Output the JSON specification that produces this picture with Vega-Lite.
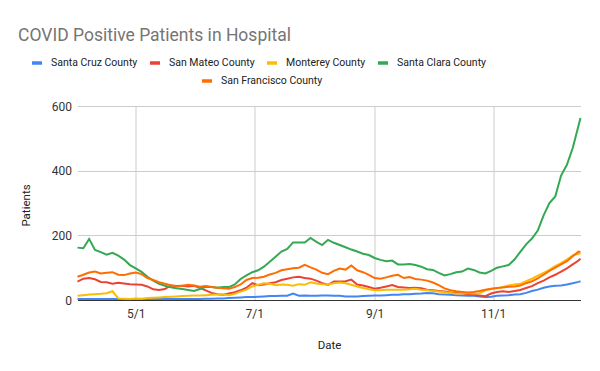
{
  "$schema": "https://vega.github.io/schema/vega-lite/v6.json",
  "width": 503,
  "height": 194,
  "autosize": {"type": "none"},
  "padding": {"left": 77.5, "top": 106, "right": 19.5, "bottom": 71},
  "background": "white",
  "config": {"font": "Roboto", "view": {"stroke": null}},
  "title": {"text": "COVID Positive Patients in Hospital", "anchor": "start", "frame": "group", "dx": -59.5, "offset": 12, "font": "Roboto", "fontSize": 17.5, "fontWeight": "normal", "color": "#757575"},
  "data": {"values": [
    {"date":"2020-04-01","Santa Cruz County":3,"San Mateo County":57,"Monterey County":13,"Santa Clara County":162,"San Francisco County":72},
    {"date":"2020-04-04","Santa Cruz County":3,"San Mateo County":66,"Monterey County":15,"Santa Clara County":160,"San Francisco County":78},
    {"date":"2020-04-07","Santa Cruz County":3,"San Mateo County":68,"Monterey County":17,"Santa Clara County":189,"San Francisco County":85},
    {"date":"2020-04-10","Santa Cruz County":3,"San Mateo County":64,"Monterey County":18,"Santa Clara County":155,"San Francisco County":88},
    {"date":"2020-04-13","Santa Cruz County":3,"San Mateo County":56,"Monterey County":19,"Santa Clara County":148,"San Francisco County":82},
    {"date":"2020-04-16","Santa Cruz County":3,"San Mateo County":55,"Monterey County":21,"Santa Clara County":140,"San Francisco County":84},
    {"date":"2020-04-19","Santa Cruz County":3,"San Mateo County":50,"Monterey County":27,"Santa Clara County":146,"San Francisco County":86},
    {"date":"2020-04-22","Santa Cruz County":3,"San Mateo County":53,"Monterey County":5,"Santa Clara County":137,"San Francisco County":78},
    {"date":"2020-04-25","Santa Cruz County":3,"San Mateo County":51,"Monterey County":4,"Santa Clara County":125,"San Francisco County":77},
    {"date":"2020-04-28","Santa Cruz County":3,"San Mateo County":49,"Monterey County":3,"Santa Clara County":108,"San Francisco County":82},
    {"date":"2020-05-01","Santa Cruz County":3,"San Mateo County":48,"Monterey County":5,"Santa Clara County":98,"San Francisco County":85},
    {"date":"2020-05-04","Santa Cruz County":3,"San Mateo County":47,"Monterey County":4,"Santa Clara County":87,"San Francisco County":80},
    {"date":"2020-05-07","Santa Cruz County":3,"San Mateo County":42,"Monterey County":6,"Santa Clara County":72,"San Francisco County":68},
    {"date":"2020-05-10","Santa Cruz County":3,"San Mateo County":33,"Monterey County":7,"Santa Clara County":60,"San Francisco County":62},
    {"date":"2020-05-13","Santa Cruz County":3,"San Mateo County":31,"Monterey County":8,"Santa Clara County":50,"San Francisco County":55},
    {"date":"2020-05-16","Santa Cruz County":3,"San Mateo County":34,"Monterey County":9,"Santa Clara County":44,"San Francisco County":50},
    {"date":"2020-05-19","Santa Cruz County":3,"San Mateo County":45,"Monterey County":10,"Santa Clara County":39,"San Francisco County":46},
    {"date":"2020-05-22","Santa Cruz County":3,"San Mateo County":43,"Monterey County":11,"Santa Clara County":36,"San Francisco County":42},
    {"date":"2020-05-25","Santa Cruz County":3,"San Mateo County":44,"Monterey County":12,"Santa Clara County":34,"San Francisco County":44},
    {"date":"2020-05-28","Santa Cruz County":3,"San Mateo County":42,"Monterey County":13,"Santa Clara County":31,"San Francisco County":47},
    {"date":"2020-05-31","Santa Cruz County":3,"San Mateo County":44,"Monterey County":14,"Santa Clara County":28,"San Francisco County":45},
    {"date":"2020-06-03","Santa Cruz County":3,"San Mateo County":38,"Monterey County":14,"Santa Clara County":34,"San Francisco County":41},
    {"date":"2020-06-06","Santa Cruz County":4,"San Mateo County":30,"Monterey County":15,"Santa Clara County":41,"San Francisco County":43},
    {"date":"2020-06-09","Santa Cruz County":4,"San Mateo County":22,"Monterey County":16,"Santa Clara County":40,"San Francisco County":40},
    {"date":"2020-06-12","Santa Cruz County":5,"San Mateo County":18,"Monterey County":17,"Santa Clara County":38,"San Francisco County":38},
    {"date":"2020-06-15","Santa Cruz County":5,"San Mateo County":16,"Monterey County":17,"Santa Clara County":40,"San Francisco County":36},
    {"date":"2020-06-18","Santa Cruz County":6,"San Mateo County":20,"Monterey County":15,"Santa Clara County":40,"San Francisco County":35},
    {"date":"2020-06-21","Santa Cruz County":7,"San Mateo County":24,"Monterey County":19,"Santa Clara County":48,"San Francisco County":40},
    {"date":"2020-06-24","Santa Cruz County":8,"San Mateo County":30,"Monterey County":26,"Santa Clara County":65,"San Francisco County":48},
    {"date":"2020-06-27","Santa Cruz County":9,"San Mateo County":38,"Monterey County":32,"Santa Clara County":76,"San Francisco County":62},
    {"date":"2020-06-30","Santa Cruz County":9,"San Mateo County":52,"Monterey County":42,"Santa Clara County":86,"San Francisco County":68},
    {"date":"2020-07-03","Santa Cruz County":10,"San Mateo County":46,"Monterey County":47,"Santa Clara County":92,"San Francisco County":69},
    {"date":"2020-07-06","Santa Cruz County":11,"San Mateo County":48,"Monterey County":52,"Santa Clara County":103,"San Francisco County":72},
    {"date":"2020-07-09","Santa Cruz County":12,"San Mateo County":52,"Monterey County":50,"Santa Clara County":118,"San Francisco County":79},
    {"date":"2020-07-12","Santa Cruz County":12,"San Mateo County":55,"Monterey County":46,"Santa Clara County":134,"San Francisco County":84},
    {"date":"2020-07-15","Santa Cruz County":13,"San Mateo County":62,"Monterey County":48,"Santa Clara County":150,"San Francisco County":92},
    {"date":"2020-07-18","Santa Cruz County":13,"San Mateo County":66,"Monterey County":47,"Santa Clara County":158,"San Francisco County":95},
    {"date":"2020-07-21","Santa Cruz County":20,"San Mateo County":70,"Monterey County":44,"Santa Clara County":178,"San Francisco County":98},
    {"date":"2020-07-24","Santa Cruz County":13,"San Mateo County":72,"Monterey County":49,"Santa Clara County":178,"San Francisco County":100},
    {"date":"2020-07-27","Santa Cruz County":14,"San Mateo County":68,"Monterey County":47,"Santa Clara County":178,"San Francisco County":109},
    {"date":"2020-07-30","Santa Cruz County":13,"San Mateo County":66,"Monterey County":55,"Santa Clara County":192,"San Francisco County":101},
    {"date":"2020-08-02","Santa Cruz County":13,"San Mateo County":60,"Monterey County":51,"Santa Clara County":180,"San Francisco County":94},
    {"date":"2020-08-05","Santa Cruz County":14,"San Mateo County":52,"Monterey County":49,"Santa Clara County":170,"San Francisco County":84},
    {"date":"2020-08-08","Santa Cruz County":14,"San Mateo County":47,"Monterey County":48,"Santa Clara County":186,"San Francisco County":80},
    {"date":"2020-08-11","Santa Cruz County":13,"San Mateo County":57,"Monterey County":52,"Santa Clara County":177,"San Francisco County":90},
    {"date":"2020-08-14","Santa Cruz County":13,"San Mateo County":57,"Monterey County":54,"Santa Clara County":170,"San Francisco County":97},
    {"date":"2020-08-17","Santa Cruz County":11,"San Mateo County":58,"Monterey County":52,"Santa Clara County":163,"San Francisco County":94},
    {"date":"2020-08-20","Santa Cruz County":11,"San Mateo County":63,"Monterey County":47,"Santa Clara County":156,"San Francisco County":107},
    {"date":"2020-08-23","Santa Cruz County":11,"San Mateo County":48,"Monterey County":42,"Santa Clara County":150,"San Francisco County":92},
    {"date":"2020-08-26","Santa Cruz County":12,"San Mateo County":45,"Monterey County":37,"Santa Clara County":143,"San Francisco County":86},
    {"date":"2020-08-29","Santa Cruz County":13,"San Mateo County":40,"Monterey County":33,"Santa Clara County":139,"San Francisco County":78},
    {"date":"2020-09-01","Santa Cruz County":14,"San Mateo County":35,"Monterey County":30,"Santa Clara County":130,"San Francisco County":68},
    {"date":"2020-09-04","Santa Cruz County":14,"San Mateo County":38,"Monterey County":30,"Santa Clara County":124,"San Francisco County":66},
    {"date":"2020-09-07","Santa Cruz County":15,"San Mateo County":42,"Monterey County":32,"Santa Clara County":120,"San Francisco County":70},
    {"date":"2020-09-10","Santa Cruz County":16,"San Mateo County":46,"Monterey County":32,"Santa Clara County":122,"San Francisco County":75},
    {"date":"2020-09-13","Santa Cruz County":16,"San Mateo County":40,"Monterey County":32,"Santa Clara County":110,"San Francisco County":78},
    {"date":"2020-09-16","Santa Cruz County":18,"San Mateo County":39,"Monterey County":32,"Santa Clara County":110,"San Francisco County":68},
    {"date":"2020-09-19","Santa Cruz County":18,"San Mateo County":37,"Monterey County":33,"Santa Clara County":111,"San Francisco County":71},
    {"date":"2020-09-22","Santa Cruz County":19,"San Mateo County":38,"Monterey County":35,"Santa Clara County":108,"San Francisco County":65},
    {"date":"2020-09-25","Santa Cruz County":20,"San Mateo County":36,"Monterey County":32,"Santa Clara County":103,"San Francisco County":63},
    {"date":"2020-09-28","Santa Cruz County":22,"San Mateo County":32,"Monterey County":30,"Santa Clara County":95,"San Francisco County":60},
    {"date":"2020-10-01","Santa Cruz County":21,"San Mateo County":30,"Monterey County":28,"Santa Clara County":93,"San Francisco County":54},
    {"date":"2020-10-04","Santa Cruz County":18,"San Mateo County":28,"Monterey County":26,"Santa Clara County":84,"San Francisco County":46},
    {"date":"2020-10-07","Santa Cruz County":17,"San Mateo County":26,"Monterey County":24,"Santa Clara County":76,"San Francisco County":36},
    {"date":"2020-10-10","Santa Cruz County":16,"San Mateo County":23,"Monterey County":22,"Santa Clara County":80,"San Francisco County":30},
    {"date":"2020-10-13","Santa Cruz County":15,"San Mateo County":22,"Monterey County":19,"Santa Clara County":86,"San Francisco County":27},
    {"date":"2020-10-16","Santa Cruz County":14,"San Mateo County":21,"Monterey County":21,"Santa Clara County":88,"San Francisco County":25},
    {"date":"2020-10-19","Santa Cruz County":13,"San Mateo County":18,"Monterey County":22,"Santa Clara County":97,"San Francisco County":23},
    {"date":"2020-10-22","Santa Cruz County":13,"San Mateo County":16,"Monterey County":20,"Santa Clara County":93,"San Francisco County":25},
    {"date":"2020-10-25","Santa Cruz County":11,"San Mateo County":14,"Monterey County":21,"Santa Clara County":85,"San Francisco County":28},
    {"date":"2020-10-28","Santa Cruz County":9,"San Mateo County":12,"Monterey County":30,"Santa Clara County":82,"San Francisco County":32},
    {"date":"2020-10-31","Santa Cruz County":10,"San Mateo County":20,"Monterey County":34,"Santa Clara County":90,"San Francisco County":35},
    {"date":"2020-11-03","Santa Cruz County":13,"San Mateo County":25,"Monterey County":36,"Santa Clara County":100,"San Francisco County":37},
    {"date":"2020-11-06","Santa Cruz County":14,"San Mateo County":27,"Monterey County":40,"Santa Clara County":104,"San Francisco County":39},
    {"date":"2020-11-09","Santa Cruz County":15,"San Mateo County":25,"Monterey County":45,"Santa Clara County":108,"San Francisco County":41},
    {"date":"2020-11-12","Santa Cruz County":17,"San Mateo County":28,"Monterey County":48,"Santa Clara County":125,"San Francisco County":42},
    {"date":"2020-11-15","Santa Cruz County":18,"San Mateo County":31,"Monterey County":50,"Santa Clara County":149,"San Francisco County":45},
    {"date":"2020-11-18","Santa Cruz County":22,"San Mateo County":37,"Monterey County":58,"Santa Clara County":172,"San Francisco County":52},
    {"date":"2020-11-21","Santa Cruz County":28,"San Mateo County":43,"Monterey County":66,"Santa Clara County":190,"San Francisco County":58},
    {"date":"2020-11-24","Santa Cruz County":32,"San Mateo County":52,"Monterey County":75,"Santa Clara County":215,"San Francisco County":67},
    {"date":"2020-11-27","Santa Cruz County":38,"San Mateo County":60,"Monterey County":84,"Santa Clara County":262,"San Francisco County":78},
    {"date":"2020-11-30","Santa Cruz County":42,"San Mateo County":70,"Monterey County":93,"Santa Clara County":300,"San Francisco County":90},
    {"date":"2020-12-03","Santa Cruz County":44,"San Mateo County":78,"Monterey County":105,"Santa Clara County":320,"San Francisco County":100},
    {"date":"2020-12-06","Santa Cruz County":45,"San Mateo County":88,"Monterey County":114,"Santa Clara County":385,"San Francisco County":110},
    {"date":"2020-12-09","Santa Cruz County":48,"San Mateo County":98,"Monterey County":125,"Santa Clara County":418,"San Francisco County":120},
    {"date":"2020-12-12","Santa Cruz County":52,"San Mateo County":110,"Monterey County":138,"Santa Clara County":470,"San Francisco County":135},
    {"date":"2020-12-15","Santa Cruz County":56,"San Mateo County":122,"Monterey County":143,"Santa Clara County":540,"San Francisco County":150},
    {"date":"2020-12-16","Santa Cruz County":58,"San Mateo County":128,"Monterey County":145,"Santa Clara County":563,"San Francisco County":148}
  ]},
  "transform": [
    {"fold": ["Santa Cruz County","San Mateo County","Monterey County","Santa Clara County","San Francisco County"], "as": ["county","n"]}
  ],
  "encoding": {
    "x": {"field": "date", "type": "temporal", "scale": {"type": "utc", "nice": false},
      "axis": {"values": [{"year":2020,"month":5,"date":1,"utc":true},{"year":2020,"month":7,"date":1,"utc":true},{"year":2020,"month":9,"date":1,"utc":true},{"year":2020,"month":11,"date":1,"utc":true}],
        "labelExpr": "utcFormat(datum.value, '%-m/%-d')", "grid": true, "gridColor": "#cccccc", "ticks": false,
        "domainColor": "#333333", "labelColor": "#333333", "labelFontSize": 12, "labelPadding": 8, "labelFlush": false,
        "title": "Date", "titleFontSize": 11.5, "titleFontWeight": "normal", "titleColor": "#222222", "titleY": 45, "titleBaseline": "middle"}},
    "y": {"field": "n", "type": "quantitative", "scale": {"domain": [0, 600], "nice": false},
      "axis": {"values": [0, 200, 400, 600], "grid": true, "gridColor": "#cccccc", "domain": false, "ticks": false,
        "labelColor": "#333333", "labelFontSize": 12, "labelPadding": 6,
        "title": "Patients", "titleFontSize": 11.5, "titleFontWeight": "normal", "titleColor": "#222222", "titleX": -51, "titleY": 99, "titleBaseline": "middle"}}
  },
  "layer": [
    {
      "transform": [{"filter": "datum.county !== 'San Francisco County'"}],
      "mark": {"type": "line", "strokeWidth": 2},
      "encoding": {
        "color": {"field": "county", "type": "nominal",
          "scale": {"domain": ["Santa Cruz County","San Mateo County","Monterey County","Santa Clara County"], "range": ["#4285F4","#EA4335","#FBBC04","#34A853"]},
          "legend": {"orient": "none", "direction": "horizontal", "legendX": -47.5, "legendY": -50, "title": null,
            "symbolType": "stroke", "symbolSize": 100, "symbolStrokeWidth": 3.5, "labelFontSize": 10.5, "labelColor": "#222222",
            "labelOffset": 7, "columnPadding": 5, "padding": 0, "labelFont": "Roboto"}}
      }
    },
    {
      "transform": [{"filter": "datum.county === 'San Francisco County'"}],
      "mark": {"type": "line", "strokeWidth": 2},
      "encoding": {
        "color": {"field": "county", "type": "nominal",
          "scale": {"domain": ["San Francisco County"], "range": ["#FF6D01"]},
          "legend": {"orient": "none", "direction": "horizontal", "legendX": 122.5, "legendY": -32, "title": null,
            "symbolType": "stroke", "symbolSize": 100, "symbolStrokeWidth": 3.5, "labelFontSize": 10.5, "labelColor": "#222222",
            "labelOffset": 7, "padding": 0, "labelFont": "Roboto"}}
      }
    }
  ],
  "resolve": {"scale": {"color": "independent"}, "legend": {"color": "independent"}}
}
